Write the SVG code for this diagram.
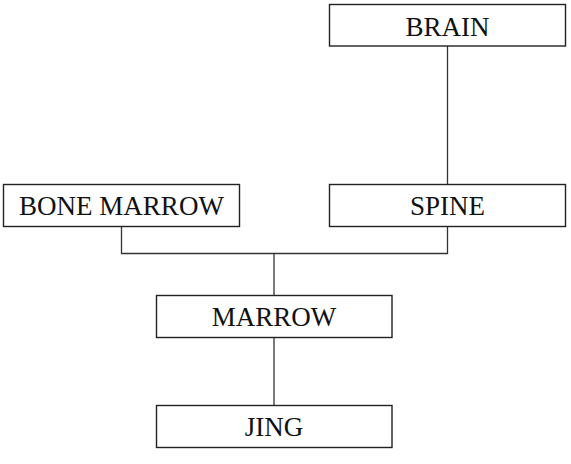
<svg xmlns="http://www.w3.org/2000/svg" width="571" height="464" viewBox="0 0 571 464">
<style>
.n{fill:#fff;stroke:#222;stroke-width:1.4}
text{font-family:"Liberation Serif","Times New Roman",serif;font-size:27px;fill:#111;text-anchor:middle}
.c{fill:none;stroke:#333;stroke-width:1.3}
</style>
<rect width="571" height="464" fill="#fff"/>
<g id="connectors">
<line class="c" x1="447.5" y1="46" x2="447.5" y2="184.5"/>
<polyline class="c" points="121.5,226.5 121.5,253.5 447.5,253.5 447.5,226.5"/>
<line class="c" x1="274" y1="253.5" x2="274" y2="295.5"/>
<line class="c" x1="274" y1="337.5" x2="274" y2="405.5"/>
</g>
<g id="brain"><rect class="n" x="329.5" y="4.5" width="236" height="41.5"/><text x="447.5" y="36">BRAIN</text></g>
<g id="spine"><rect class="n" x="329.5" y="184.5" width="236" height="42"/><text x="447.5" y="215">SPINE</text></g>
<g id="bone-marrow"><rect class="n" x="3.5" y="184.5" width="236" height="42"/><text x="121.5" y="215">BONE MARROW</text></g>
<g id="marrow"><rect class="n" x="156.5" y="295.5" width="235.5" height="42"/><text x="274" y="326">MARROW</text></g>
<g id="jing"><rect class="n" x="156.5" y="405.5" width="235.5" height="42"/><text x="274" y="436">JING</text></g>
</svg>
